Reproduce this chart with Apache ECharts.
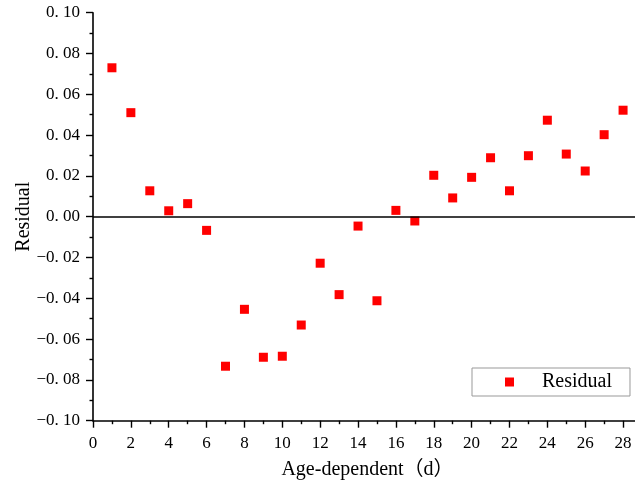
<!DOCTYPE html>
<html>
<head>
<meta charset="utf-8">
<script src="https://cdn.jsdelivr.net/npm/echarts@6/dist/echarts.min.js"></script>
<style>
  html, body { margin: 0; padding: 0; background: #fff; }
  #chart { width: 635px; height: 486px; }
</style>
</head>
<body>
<div id="chart"></div>
<script>
// age in days
var ages = [1, 2, 3, 4, 5, 6, 7, 8, 9, 10, 11, 12, 13, 14, 15, 16, 17, 18, 19, 20, 21, 22, 23, 24, 25, 26, 27, 28]
// residual values
var residuals = [0.0730, 0.0510, 0.0127, 0.0029, 0.0064, -0.0067, -0.0733, -0.0454, -0.0689, -0.0684,
  -0.0531, -0.0228, -0.0382, -0.0046, -0.0412, 0.0031, -0.0021, 0.0203, 0.0092, 0.0193,
  0.0289, 0.0127, 0.0299, 0.0473, 0.0307, 0.0224, 0.0402, 0.0522]
var seriesName = 'Residual'
var xName = 'Age-dependent（d）'
var yName = 'Residual'

var font = '"Liberation Serif", "DejaVu Serif", "Noto Sans CJK SC", serif'

function fmtY(v) {
  var s = Math.abs(v).toFixed(2).replace('.', '. ')
  return (v < -1e-9 ? '\u2212' : '') + s
}

var chart = echarts.init(document.getElementById('chart'))
chart.setOption({
  animation: false,
  backgroundColor: '#fff',
  grid: {
    left: 93,
    top: 12.7,
    bottom: 65.3,
    right: -7,
    outerBoundsMode: 'none'
  },
  legend: {
    data: [seriesName],
    left: 472,
    top: 368,
    orient: 'vertical',
    backgroundColor: '#fff',
    borderColor: '#999',
    borderWidth: 1,
    borderRadius: 0,
    padding: [4, 18, 4, 33],
    itemWidth: 9,
    itemHeight: 9,
    icon: 'rect',
    textStyle: {
      fontFamily: font,
      fontSize: 20,
      color: '#000',
      padding: [0, 0, 0, 23]
    }
  },
  xAxis: {
    type: 'value',
    min: 0,
    max: 29,
    interval: 2,
    name: xName,
    nameLocation: 'middle',
    nameGap: 39,
    nameMoveOverlap: false,
    nameTextStyle: { fontFamily: font, fontSize: 20, color: '#000' },
    axisLine: { onZero: false, lineStyle: { color: '#000', width: 1.6 } },
    axisTick: { inside: false, length: 7, lineStyle: { color: '#000', width: 1.4 } },
    minorTick: { show: true, splitNumber: 2, length: 3.5, lineStyle: { color: '#000', width: 1.4 } },
    splitLine: { show: false },
    axisLabel: {
      margin: 14,
      fontFamily: font,
      fontSize: 17,
      color: '#000',
      showMaxLabel: false
    }
  },
  yAxis: {
    type: 'value',
    min: -0.1,
    max: 0.1,
    interval: 0.02,
    name: yName,
    nameLocation: 'middle',
    nameGap: 59,
    nameMoveOverlap: false,
    nameTextStyle: { fontFamily: font, fontSize: 20, color: '#000' },
    axisLine: { show: true, onZero: false, lineStyle: { color: '#000', width: 1.6 } },
    axisTick: { show: true, inside: false, length: 7, lineStyle: { color: '#000', width: 1.4 } },
    minorTick: { show: true, splitNumber: 2, length: 3.5, lineStyle: { color: '#000', width: 1.4 } },
    splitLine: { show: false },
    axisLabel: {
      margin: 13,
      fontFamily: font,
      fontSize: 17,
      color: '#000',
      formatter: fmtY
    }
  },
  series: [
    {
      name: seriesName,
      type: 'scatter',
      symbol: 'rect',
      symbolSize: 9,
      itemStyle: { color: '#ff0000', opacity: 1 },
      data: ages.map(function (a, i) { return [a, residuals[i]] }),
      markLine: {
        silent: true,
        symbol: 'none',
        label: { show: false },
        lineStyle: { color: '#000', width: 1.6, type: 'solid' },
        data: [{ yAxis: 0 }]
      }
    }
  ]
})
</script>
</body>
</html>
